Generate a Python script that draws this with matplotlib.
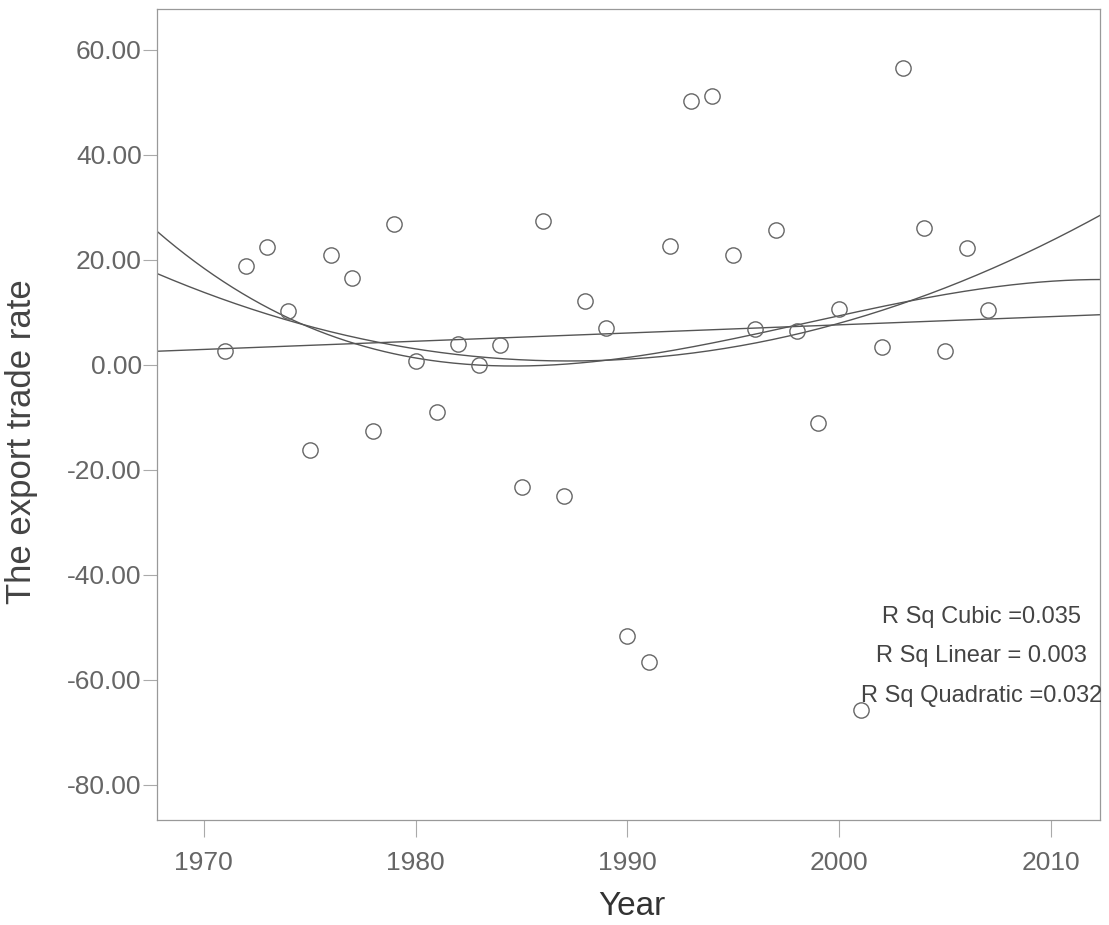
import numpy as np
import matplotlib
matplotlib.use('Agg')
import matplotlib.pyplot as plt
from matplotlib.ticker import FormatStrFormatter

plt.rcParams['font.family'] = ['Liberation Sans', 'DejaVu Sans']

# Data
years = list(range(1971, 2008))
rate = [2.7, 18.9, 22.5, 10.3, -16.2, 20.9, 16.5, -12.5, 26.9, 0.8,
        -9.0, 3.9, -0.1, 3.7, -23.2, 27.5, -25.0, 12.2, 7.0, -51.7,
        -56.6, 22.7, 50.2, 51.3, 21.0, 6.8, 25.6, 6.5, -11.1, 10.7,
        -65.7, 3.4, 56.5, 26.0, 2.7, 22.2, 10.5]

fit_labels = ['R Sq Cubic =0.035', 'R Sq Linear = 0.003', 'R Sq Quadratic =0.032']

x = np.array(years, dtype=float)
y = np.array(rate)
xc = x.mean()

fig = plt.figure(figsize=(11.09, 9.25), dpi=100)
ax = fig.add_axes([0.1416, 0.1135, 0.8503, 0.8768])

ax.set_xlim(1967.8, 2012.3)
ax.set_ylim(-86.7, 67.8)

# Linear, quadratic and cubic fits
xs = np.linspace(1967.8, 2012.3, 300)
for deg in (1, 2, 3):
    coef = np.polyfit(x - xc, y, deg)
    ax.plot(xs, np.polyval(coef, xs - xc), color='#555555', lw=1.0)

ax.plot(x, y, 'o', ms=11, mfc='none', mec='#666666', mew=1.0)

# R-square notes
for i, lab in enumerate(fit_labels):
    ax.text(2006.7, -48 - 7.5 * i, lab, ha='center', va='center',
            fontsize=17, color='#444444')

ax.set_xticks([1970, 1980, 1990, 2000, 2010])
ax.set_yticks(np.arange(-80, 61, 20))
ax.yaxis.set_major_formatter(FormatStrFormatter('%.2f'))
ax.tick_params(axis='y', length=10, width=0.8, color='#aaaaaa', pad=1,
               labelsize=19, labelcolor='#666666')
ax.tick_params(axis='x', length=12, width=0.8, color='#aaaaaa', pad=10,
               labelsize=19, labelcolor='#666666')
for s in ax.spines.values():
    s.set_color('#999999')
    s.set_linewidth(0.9)

ax.set_xlabel('Year', fontsize=24, color='#333333')
ax.xaxis.label.set_va('center')
ax.xaxis.set_label_coords(0.504, -0.107)
ax.set_ylabel('The export trade rate', fontsize=25, color='#444444')
ax.yaxis.label.set_va('center')
ax.yaxis.set_label_coords(-0.144, 0.467)

fig.savefig('out.png', dpi=100)
